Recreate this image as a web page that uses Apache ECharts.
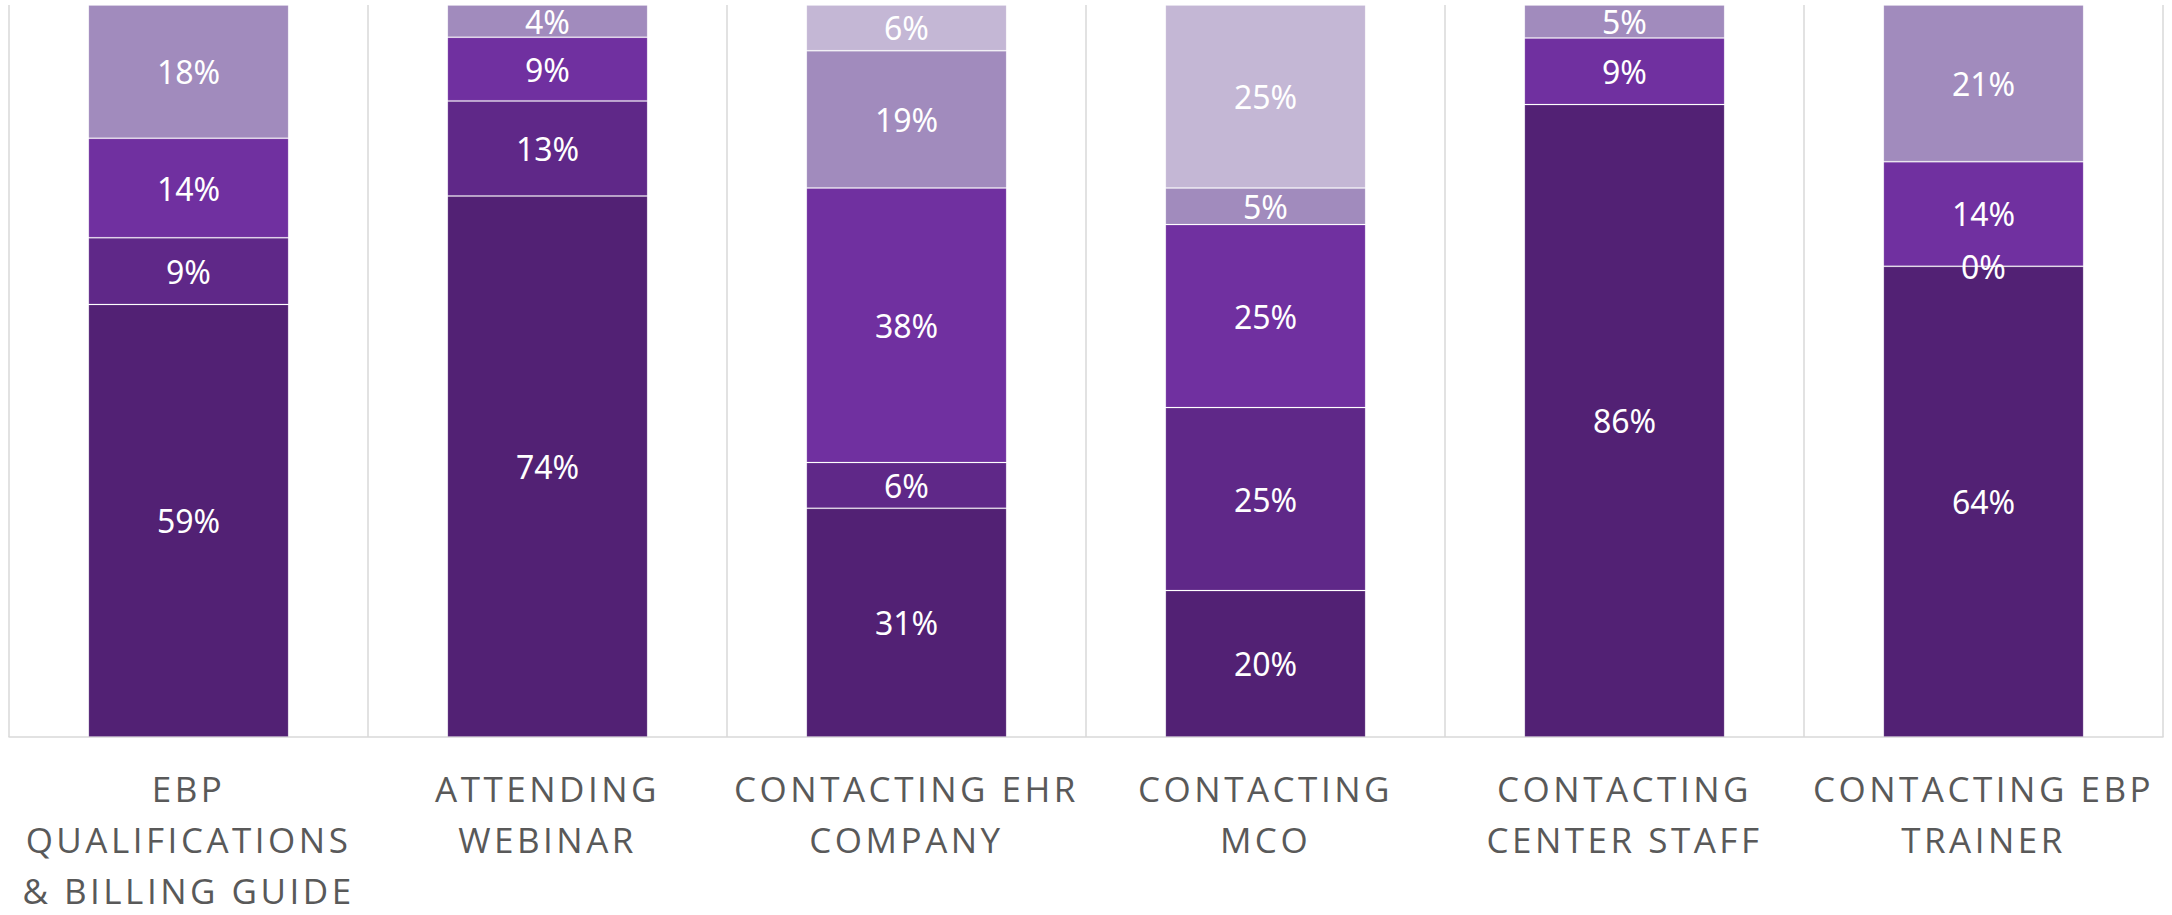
<!DOCTYPE html>
<html>
<head>
<meta charset="utf-8">
<script src="https://cdn.jsdelivr.net/npm/echarts@6/dist/echarts.min.js"></script>
<style>
  html, body { margin: 0; padding: 0; background: #fff; }
  #chart { width: 2172px; height: 915px; }
  #chart text[style*="Open Sans"] { letter-spacing: 3.5px; }
</style>
</head>
<body>
<div id="chart"></div>
<script>
const categories = [
  'EBP\nQUALIFICATIONS\n& BILLING GUIDE',
  'ATTENDING\nWEBINAR',
  'CONTACTING EHR\nCOMPANY',
  'CONTACTING\nMCO',
  'CONTACTING\nCENTER STAFF',
  'CONTACTING EBP\nTRAINER'
];
// stacked shares (%), bottom to top
const series1 = [59.1, 73.9, 31.25, 20, 86.4, 64.3];
const series2 = [9.1, 13.0, 6.25, 25, null, 0];
const series3 = [13.6, 8.7, 37.5, 25, 9.1, 14.3];
const series4 = [18.2, 4.4, 18.75, 5, 4.5, 21.4];
const series5 = [null, null, 6.25, 25, null, null];

const colors = ['#522174', '#5F2888', '#7030A0', '#A18BBD', '#C4B7D5'];
const allSeries = [series1, series2, series3, series4, series5];

const chart = echarts.init(document.getElementById('chart'), null, { renderer: 'svg' });
chart.setOption({
  animation: false,
  grid: { left: 9, right: 9, top: 5, bottom: 178, containLabel: false, outerBoundsMode: 'none' },
  xAxis: {
    type: 'category',
    data: categories,
    boundaryGap: true,
    axisLine: { show: true, lineStyle: { color: '#D9D9D9', width: 1.5 } },
    axisTick: { show: false },
    splitLine: { show: true, lineStyle: { color: '#D9D9D9', width: 1.5 } },
    axisLabel: {
      interval: 0,
      margin: 26,
      color: '#595959',
      fontFamily: 'Open Sans',
      fontSize: 35,
      lineHeight: 51
    }
  },
  yAxis: {
    type: 'value',
    min: 0,
    max: 100,
    show: false,
    splitLine: { show: false }
  },
  series: allSeries.map((d, i) => ({
    type: 'bar',
    stack: 'total',
    data: d,
    barWidth: '55.8%',
    itemStyle: { color: colors[i], borderColor: 'rgba(255,255,255,0.16)', borderWidth: 1 },
    label: {
      show: true,
      position: 'inside',
      color: '#FFFFFF',
      fontFamily: 'Noto Sans',
      fontSize: 32,
      formatter: p => (p.value === null || p.value === undefined) ? '' : Math.round(p.value) + '%'
    }
  }))
});
</script>
</body>
</html>
